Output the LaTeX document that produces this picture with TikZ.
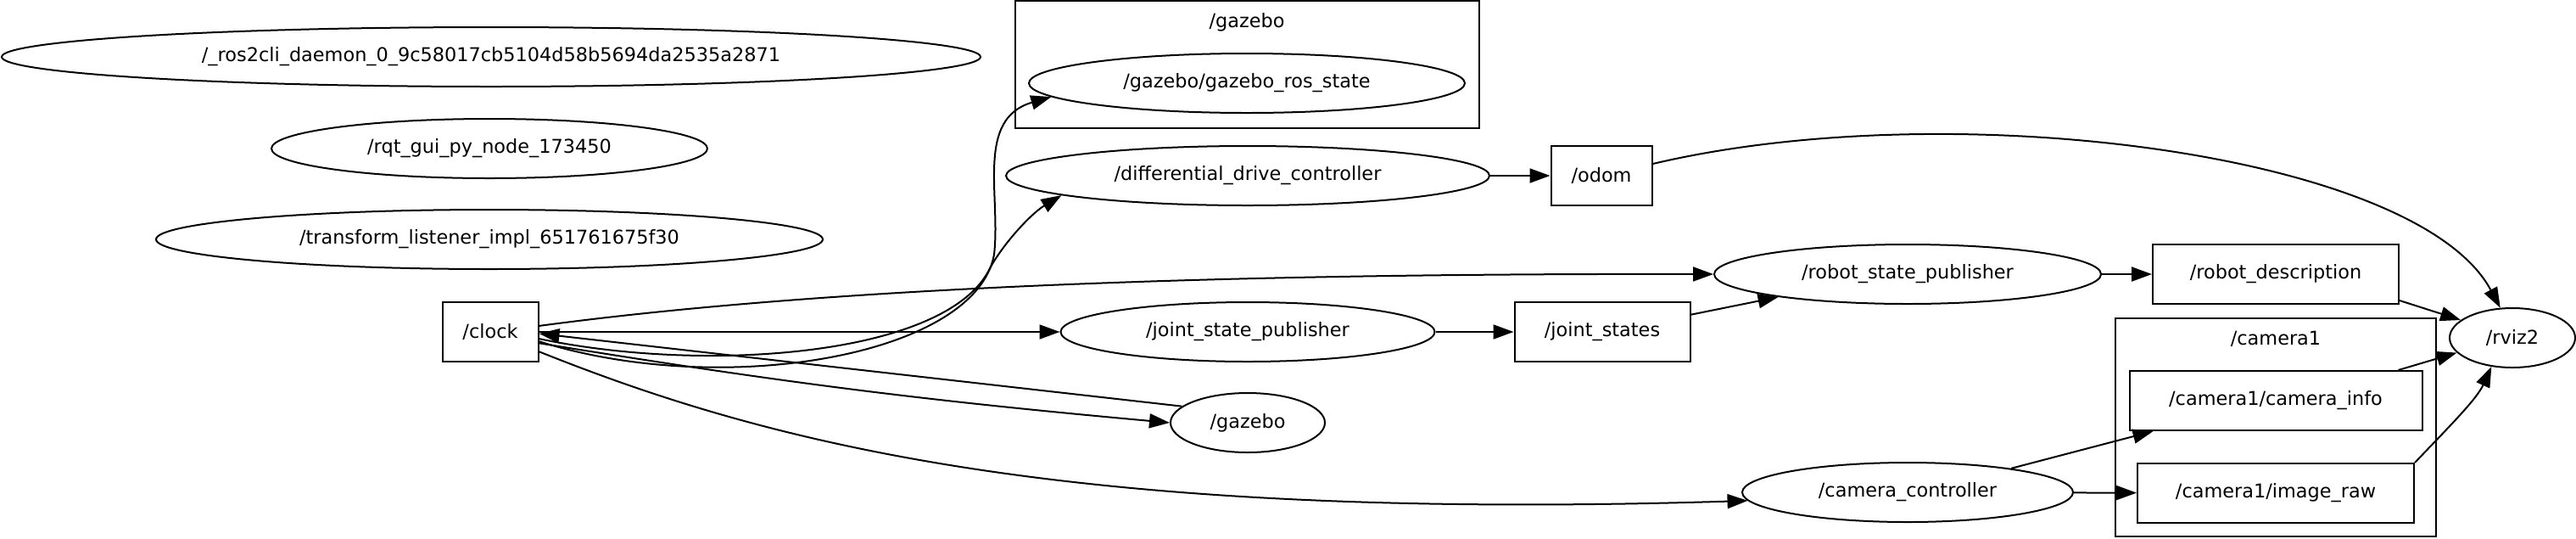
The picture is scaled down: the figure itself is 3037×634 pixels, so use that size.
\documentclass[tikz,border=0pt]{standalone}
\usepackage{fontspec}
\setmainfont{DejaVu Sans}
\usetikzlibrary{shapes.geometric, arrows.meta, positioning}

\begin{document}
\begin{tikzpicture}[x=0.5pt, y=-0.5pt, line width=1pt,
	font=\fontsize{11.2}{13}\selectfont,
	>={Triangle[length=12pt,width=8.5pt]},
	rosnode/.style={ellipse, draw, inner sep=0pt, minimum height=35pt},
	rostopic/.style={rectangle, draw, inner sep=0pt, minimum height=35pt}]
	\useasboundingbox (0,0) rectangle (3037,634);

	% namespace boxes
	\draw (1197,1) rectangle (1744,151);
	\node (gzlabel) at (1470,26) {/gazebo};
	\draw (2494,375) rectangle (2872,632);
	\node (camlabel) at (2683,399) {/camera1};

	% nodes
	\node (ros2cli) at (579,67) [rosnode, minimum width=577pt] {/\_ros2cli\_daemon\_0\_9c58017cb5104d58b5694da2535a2871};
	\node (rqt) at (577,175) [rosnode, minimum width=257pt] {/rqt\_gui\_py\_node\_173450};
	\node (tflisten) at (577,282) [rosnode, minimum width=393pt] {/transform\_listener\_impl\_651761675f30};
	\node (gzros) at (1470,98) [rosnode, minimum width=257pt] {/gazebo/gazebo\_ros\_state};
	\node (diffdrive) at (1471,207) [rosnode, minimum width=285pt] {/differential\_drive\_controller};
	\node (jsp) at (1471,391) [rosnode, minimum width=220.5pt] {/joint\_state\_publisher};
	\node (gazebo) at (1471,498) [rosnode, minimum width=91pt] {/gazebo};
	\node (rsp) at (2249,323) [rosnode, minimum width=228pt] {/robot\_state\_publisher};
	\node (camctrl) at (2249,580) [rosnode, minimum width=195pt] {/camera\_controller};
	\node (rviz) at (2962,398) [rosnode, minimum width=74pt] {/rviz2};

	% topics
	\node (clock) at (578,391) [rostopic, minimum width=56.5pt] {/clock};
	\node (odom) at (1888,207) [rostopic, minimum width=59.5pt] {/odom};
	\node (jointstates) at (1889,391) [rostopic, minimum width=103.5pt] {/joint\_states};
	\node (robotdesc) at (2683,323) [rostopic, minimum width=145pt] {/robot\_description};
	\node (caminfo) at (2683,472) [rostopic, minimum width=172.5pt] {/camera1/camera\_info};
	\node (imageraw) at (2683,581) [rostopic, minimum width=163pt] {/camera1/image\_raw};

	% connections
	\draw[->] (clock.-11) .. controls (850,470) and (1150,420) .. (1172,300)
		.. controls (1180,230) and (1150,140) .. (gzros.184);
	\draw[->] (clock.-8) .. controls (830,440) and (1110,420) .. (1165,320)
		.. controls (1180,290) and (1215,252) .. (diffdrive.186);
	\draw[->] (clock.7) .. controls (1000,335) and (1500,322) .. (rsp.west);
	\draw[->] (clock.-22) .. controls (900,520) and (1250,615) .. (camctrl.183);
	\path[->] (clock) edge (jsp);
	\path[->] (clock.-13) edge [bend right=2] (gazebo.west);
	\path[->] (gazebo.166) edge (clock.-2);
	\path[->] (diffdrive) edge (odom);
	\path[->] (jsp) edge (jointstates);
	\path[->] (jointstates.11) edge (rsp.190);
	\path[->] (rsp) edge (robotdesc);
	\path[->] (robotdesc.-12) edge (rviz.161);
	\path[->] (caminfo.14) edge (rviz.195);
	\path[->] (camctrl.13) edge (caminfo.194);
	\path[->] (camctrl) edge (imageraw);
	\draw[->] (odom.13) .. controls (2300,110) and (2850,180) .. (rviz.112);
	\draw[->] (imageraw.north east) .. controls (2890,500) and (2920,470) .. (rviz.234);
\end{tikzpicture}
\end{document}
